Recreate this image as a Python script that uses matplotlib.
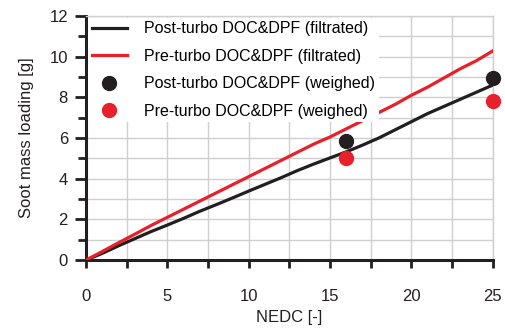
import matplotlib
matplotlib.use("Agg")
import matplotlib.pyplot as plt
from matplotlib.ticker import MultipleLocator

plt.rcParams['font.family'] = ['Liberation Sans', 'DejaVu Sans']

nedc = list(range(0, 26))
pre_filtrated = [0, 0.42, 0.85, 1.27, 1.7, 2.1, 2.5, 2.9, 3.3, 3.7, 4.1, 4.5, 4.9,
                 5.3, 5.7, 6.05, 6.45, 6.85, 7.25, 7.65, 8.1, 8.5, 8.95, 9.4, 9.8, 10.28]
post_filtrated = [0, 0.33, 0.7, 1.05, 1.4, 1.72, 2.05, 2.4, 2.72, 3.05, 3.39, 3.72, 4.05,
                  4.4, 4.72, 5.02, 5.32, 5.65, 6.0, 6.4, 6.8, 7.2, 7.55, 7.9, 8.25, 8.6]
weigh_x = [16, 25]
post_weighed = [5.85, 8.95]
pre_weighed = [5.02, 7.82]

RED = '#e8202a'
BLACK = '#231f20'
GRID = '#cfcfcf'

fig = plt.figure(figsize=(5.06, 3.30), dpi=100)
ax = fig.add_axes([0.170, 0.212, 0.804, 0.740])

ax.plot(nedc, post_filtrated, color=BLACK, lw=2.3, label='Post-turbo DOC&DPF (filtrated)', zorder=3)
ax.plot(nedc, pre_filtrated, color=RED, lw=2.3, label='Pre-turbo DOC&DPF (filtrated)', zorder=3)
ax.plot(weigh_x, post_weighed, 'o', color=BLACK, ms=10, label='Post-turbo DOC&DPF (weighed)', zorder=4, clip_on=False)
ax.plot(weigh_x, pre_weighed, 'o', color=RED, ms=10, label='Pre-turbo DOC&DPF (weighed)', zorder=4, clip_on=False)

ax.set_xlim(0, 25)
ax.set_ylim(0, 12)
ax.xaxis.set_major_locator(MultipleLocator(5))
ax.xaxis.set_minor_locator(MultipleLocator(2.5))
ax.yaxis.set_major_locator(MultipleLocator(2))
ax.yaxis.set_minor_locator(MultipleLocator(1))

ax.grid(True, which='both', color=GRID, lw=1.0, zorder=0)
ax.set_axisbelow(True)

for s in ['top', 'right']:
    ax.spines[s].set_color(GRID)
    ax.spines[s].set_linewidth(1.0)
for s in ['left', 'bottom']:
    ax.spines[s].set_color(BLACK)
    ax.spines[s].set_linewidth(2.2)

ax.tick_params(axis='y', which='major', direction='out', length=8, width=2, color=BLACK,
               labelsize=12, pad=5, labelcolor=BLACK)
ax.tick_params(axis='y', which='minor', direction='out', length=6, width=2, color=BLACK)
ax.tick_params(axis='x', which='major', direction='out', length=6, width=2, color=BLACK,
               labelsize=12, pad=15, labelcolor=BLACK)
ax.tick_params(axis='x', which='minor', direction='out', length=6, width=2, color=BLACK)

ax.set_xlabel('NEDC [-]', fontsize=12, color=BLACK, labelpad=4)
ax.set_ylabel('Soot mass loading [g]', fontsize=12, color=BLACK, labelpad=11)

leg = ax.legend(loc='upper left', frameon=True, fancybox=False, framealpha=1,
                facecolor='white', edgecolor='none', borderaxespad=0.15,
                fontsize=11.5, handlelength=2.2, handletextpad=1.1, labelspacing=0.78,
                borderpad=0.2)
leg.set_zorder(5)

fig.savefig('out.png', dpi=100)
